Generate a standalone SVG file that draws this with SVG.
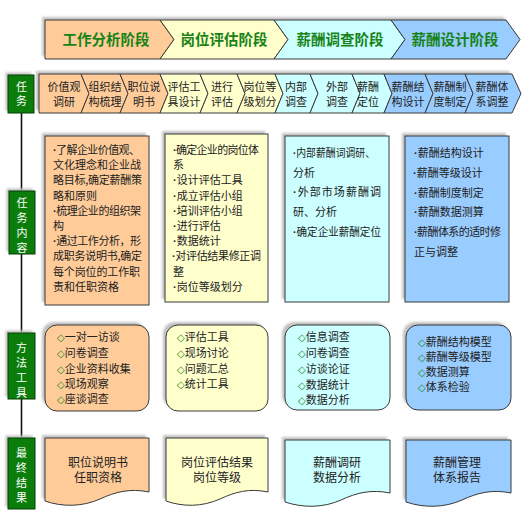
<svg xmlns="http://www.w3.org/2000/svg" width="525" height="524" viewBox="0 0 525 524">
<defs>
<filter id="blur" x="-10%" y="-10%" width="120%" height="120%"><feGaussianBlur stdDeviation="0.8"/></filter>
</defs>
<style>
.sh{fill:#c2c2c2;filter:url(#blur)}
.o{fill:#FFCC99;stroke:#3a3a3a;stroke-width:1}
.y{fill:#FFFFCC;stroke:#3a3a3a;stroke-width:1}
.c{fill:#CCFFFF;stroke:#3a3a3a;stroke-width:1}
.b{fill:#99CCFF;stroke:#3a3a3a;stroke-width:1}
.g{fill:#0b7d0b;stroke:#064006;stroke-width:1}
text{font-family:"Noto Sans CJK SC","Noto Sans",sans-serif}
.t{font-size:11px;fill:#222}
.tc{font-size:11px;fill:#222;text-anchor:middle}
.ph{font-size:14.5px;font-weight:bold;fill:#178317;text-anchor:middle}
.w{font-size:11px;fill:#fff;text-anchor:middle}
.r{font-size:12px;fill:#222;text-anchor:middle}
.d{fill:#168a16;font-family:"DejaVu Sans",sans-serif;font-size:10px}
.bu{font-family:"Liberation Sans",sans-serif;font-weight:bold}
</style>

<g id="connectors">
<line x1="21.5" y1="113" x2="21.5" y2="438" stroke="#111" stroke-width="1.6"/>
</g>

<g id="phase-bar">
<polygon class="sh" points="42,17 503,17 517,36.5 503,56 42,56"/>
<polygon class="o" points="45,20 160,20 174,39.5 160,59 45,59"/>
<polygon class="y" points="160,20 274,20 288,39.5 274,59 160,59 174,39.5"/>
<polygon class="c" points="274,20 391,20 405,39.5 391,59 274,59 288,39.5"/>
<polygon class="b" points="391,20 506,20 520,39.5 506,59 391,59 405,39.5"/>
<text class="ph" x="106" y="45">工作分析阶段</text>
<text class="ph" x="224" y="45">岗位评估阶段</text>
<text class="ph" x="340" y="45">薪酬调查阶段</text>
<text class="ph" x="455" y="45">薪酬设计阶段</text>
</g>

<g id="label-task">
<rect class="sh" x="5.5" y="72.5" width="26" height="38"/>
<rect class="g" x="8" y="75" width="26" height="38"/>
<text class="w" x="21.5" y="91">任</text>
<text class="w" x="21.5" y="105">务</text>
</g>

<g id="task-row">
<polygon class="sh" points="36,71 509,71 518,90.5 509,110 36,110"/>
<polygon class="o" points="39,74 81,74 89,93.5 81,113 39,113"/>
<polygon class="o" points="81,74 120,74 128,93.5 120,113 81,113 89,93.5"/>
<polygon class="o" points="120,74 160,74 168,93.5 160,113 120,113 128,93.5"/>
<polygon class="y" points="160,74 200,74 208,93.5 200,113 160,113 168,93.5"/>
<polygon class="y" points="200,74 237,74 245,93.5 237,113 200,113 208,93.5"/>
<polygon class="y" points="237,74 275,74 283,93.5 275,113 237,113 245,93.5"/>
<polygon class="c" points="275,74 310,74 318,93.5 310,113 275,113 283,93.5"/>
<polygon class="c" points="310,74 352,74 360,93.5 352,113 310,113 318,93.5"/>
<polygon class="c" points="352,74 384,74 392,93.5 384,113 352,113 360,93.5"/>
<polygon class="b" points="384,74 425,74 433,93.5 425,113 384,113 392,93.5"/>
<polygon class="b" points="425,74 465,74 473,93.5 465,113 425,113 433,93.5"/>
<polygon class="b" points="465,74 512,74 521,93.5 512,113 465,113 473,93.5"/>
<text class="tc" x="64" y="91">价值观</text><text class="tc" x="64" y="106">调研</text>
<text class="tc" x="105" y="91">组织结</text><text class="tc" x="105" y="106">构梳理</text>
<text class="tc" x="144" y="91">职位说</text><text class="tc" x="144" y="106">明书</text>
<text class="tc" x="184" y="91">评估工</text><text class="tc" x="184" y="106">具设计</text>
<text class="tc" x="222" y="91">进行</text><text class="tc" x="222" y="106">评估</text>
<text class="tc" x="260" y="91">岗位等</text><text class="tc" x="260" y="106">级划分</text>
<text class="tc" x="296" y="91">内部</text><text class="tc" x="296" y="106">调查</text>
<text class="tc" x="337" y="91">外部</text><text class="tc" x="337" y="106">调查</text>
<text class="tc" x="368" y="91">薪酬</text><text class="tc" x="368" y="106">定位</text>
<text class="tc" x="408" y="91">薪酬结</text><text class="tc" x="408" y="106">构设计</text>
<text class="tc" x="450" y="91">薪酬制</text><text class="tc" x="450" y="106">度制定</text>
<text class="tc" x="492" y="91">薪酬体</text><text class="tc" x="492" y="106">系调整</text>
</g>

<g id="label-content">
<rect class="sh" x="6.5" y="188.5" width="26" height="63"/>
<rect class="g" x="9" y="191" width="26" height="63"/>
<text class="w" x="22" y="206.5">任</text>
<text class="w" x="22" y="221.5">务</text>
<text class="w" x="22" y="236.5">内</text>
<text class="w" x="22" y="251.5">容</text>
</g>

<g id="content-1">
<rect class="sh" x="42" y="133" width="104" height="169"/>
<rect class="o" x="45" y="136" width="104" height="169"/>
<text class="t" x="53" y="154" textLength="87" lengthAdjust="spacing"><tspan class="bu">·</tspan>了解企业价值观、</text>
<text class="t" x="53" y="169" textLength="88" lengthAdjust="spacing">文化理念和企业战</text>
<text class="t" x="53" y="184" textLength="89" lengthAdjust="spacing">略目标,确定薪酬策</text>
<text class="t" x="53" y="200">略和原则</text>
<text class="t" x="53" y="215" textLength="88" lengthAdjust="spacing"><tspan class="bu">·</tspan>梳理企业的组织架</text>
<text class="t" x="53" y="230">构</text>
<text class="t" x="53" y="245" textLength="88" lengthAdjust="spacing"><tspan class="bu">·</tspan>通过工作分析，形</text>
<text class="t" x="53" y="260" textLength="89" lengthAdjust="spacing">成职务说明书,确定</text>
<text class="t" x="53" y="276" textLength="87" lengthAdjust="spacing">每个岗位的工作职</text>
<text class="t" x="53" y="291">责和任职资格</text>
</g>

<g id="content-2">
<rect class="sh" x="162" y="131" width="103" height="168"/>
<rect class="y" x="165" y="134" width="103" height="168"/>
<text class="t" x="173" y="154" textLength="86" lengthAdjust="spacing"><tspan class="bu">·</tspan>确定企业的岗位体</text>
<text class="t" x="173" y="169">系</text>
<text class="t" x="173" y="184"><tspan class="bu">·</tspan>设计评估工具</text>
<text class="t" x="173" y="200"><tspan class="bu">·</tspan>成立评估小组</text>
<text class="t" x="173" y="215"><tspan class="bu">·</tspan>培训评估小组</text>
<text class="t" x="173" y="230"><tspan class="bu">·</tspan>进行评估</text>
<text class="t" x="173" y="245"><tspan class="bu">·</tspan>数据统计</text>
<text class="t" x="172" y="260" textLength="89" lengthAdjust="spacing"><tspan class="bu">·</tspan>对评估结果修正调</text>
<text class="t" x="173" y="276">整</text>
<text class="t" x="173" y="291"><tspan class="bu">·</tspan>岗位等级划分</text>
</g>

<g id="content-3">
<rect class="sh" x="282" y="133" width="104" height="166"/>
<rect class="c" x="285" y="136" width="104" height="166"/>
<text class="t" x="293" y="157" textLength="82" lengthAdjust="spacingAndGlyphs"><tspan class="bu">·</tspan>内部薪酬词调研、</text>
<text class="t" x="293" y="177">分析</text>
<text class="t" x="293" y="196" textLength="88" lengthAdjust="spacing"><tspan class="bu">·</tspan>外部市场薪酬调</text>
<text class="t" x="293" y="216">研、分析</text>
<text class="t" x="293" y="236" textLength="88" lengthAdjust="spacingAndGlyphs"><tspan class="bu">·</tspan>确定企业薪酬定位</text>
</g>

<g id="content-4">
<rect class="sh" x="402" y="133" width="104" height="166"/>
<rect class="b" x="405" y="136" width="104" height="166"/>
<text class="t" x="414" y="157"><tspan class="bu">·</tspan>薪酬结构设计</text>
<text class="t" x="413" y="177"><tspan class="bu">·</tspan>薪酬等级设计</text>
<text class="t" x="414" y="197"><tspan class="bu">·</tspan>薪酬制度制定</text>
<text class="t" x="414" y="216"><tspan class="bu">·</tspan>薪酬数据测算</text>
<text class="t" x="414" y="236" textLength="87" lengthAdjust="spacing"><tspan class="bu">·</tspan>薪酬体系的适时修</text>
<text class="t" x="414" y="256">正与调整</text>
</g>

<g id="label-method">
<rect class="sh" x="5.5" y="330.5" width="27" height="66"/>
<rect class="g" x="8" y="333" width="27" height="66"/>
<text class="w" x="21.5" y="351.5">方</text>
<text class="w" x="21.5" y="366.5">法</text>
<text class="w" x="21.5" y="381.5">工</text>
<text class="w" x="21.5" y="396.5">具</text>
</g>

<g id="method-1">
<rect class="sh" x="42" y="322" width="104" height="86" rx="12"/>
<rect class="o" x="45" y="325" width="104" height="86" rx="12"/>
<text class="t" x="57" y="341"><tspan class="d">◇</tspan>一对一访谈</text>
<text class="t" x="57" y="357"><tspan class="d">◇</tspan>问卷调查</text>
<text class="t" x="57" y="373"><tspan class="d">◇</tspan>企业资料收集</text>
<text class="t" x="57" y="388"><tspan class="d">◇</tspan>现场观察</text>
<text class="t" x="57" y="403"><tspan class="d">◇</tspan>座谈调查</text>
</g>

<g id="method-2">
<rect class="sh" x="163" y="322" width="102" height="86" rx="12"/>
<rect class="y" x="166" y="325" width="102" height="86" rx="12"/>
<text class="t" x="177" y="341"><tspan class="d">◇</tspan>评估工具</text>
<text class="t" x="177" y="357"><tspan class="d">◇</tspan>现场讨论</text>
<text class="t" x="177" y="373"><tspan class="d">◇</tspan>问题汇总</text>
<text class="t" x="177" y="388"><tspan class="d">◇</tspan>统计工具</text>
</g>

<g id="method-3">
<rect class="sh" x="282" y="322" width="105" height="85" rx="12"/>
<rect class="c" x="285" y="325" width="105" height="85" rx="12"/>
<text class="t" x="298" y="341"><tspan class="d">◇</tspan>信息调查</text>
<text class="t" x="298" y="357"><tspan class="d">◇</tspan>问卷调查</text>
<text class="t" x="298" y="373"><tspan class="d">◇</tspan>访谈论证</text>
<text class="t" x="298" y="389"><tspan class="d">◇</tspan>数据统计</text>
<text class="t" x="298" y="404"><tspan class="d">◇</tspan>数据分析</text>
</g>

<g id="method-4">
<rect class="sh" x="403" y="322" width="105" height="85" rx="12"/>
<rect class="b" x="406" y="325" width="105" height="85" rx="12"/>
<text class="t" x="418" y="346"><tspan class="d">◇</tspan>薪酬结构模型</text>
<text class="t" x="418" y="361"><tspan class="d">◇</tspan>薪酬等级模型</text>
<text class="t" x="418" y="376"><tspan class="d">◇</tspan>数据测算</text>
<text class="t" x="418" y="391"><tspan class="d">◇</tspan>体系检验</text>
</g>

<g id="label-result">
<rect class="sh" x="5.5" y="435.5" width="27" height="71"/>
<rect class="g" x="8" y="438" width="27" height="71"/>
<text class="w" x="21.5" y="456.5">最</text>
<text class="w" x="21.5" y="471.5">终</text>
<text class="w" x="21.5" y="486.5">结</text>
<text class="w" x="21.5" y="501.5">果</text>
</g>

<g id="result-1">
<path class="sh" d="M42,435 H146 V489 C127,485 112,489 97,496 C79,504 59,504 42,498 Z"/>
<path class="o" d="M45,438 H149 V492 C130,488 115,492 100,499 C82,507 62,507 45,501 Z"/>
<text class="r" x="98" y="467">职位说明书</text>
<text class="r" x="98" y="482">任职资格</text>
</g>

<g id="result-2">
<path class="sh" d="M163,435 H265 V489 C246,485 232,489 217,496 C199,504 180,504 163,498 Z"/>
<path class="y" d="M166,438 H268 V492 C249,488 235,492 220,499 C202,507 183,507 166,501 Z"/>
<text class="r" x="217" y="467">岗位评估结果</text>
<text class="r" x="217" y="482">岗位等级</text>
</g>

<g id="result-3">
<path class="sh" d="M282,437 H387 V490 C368,486 353,490 338,497 C320,505 300,505 282,499 Z"/>
<path class="c" d="M285,440 H390 V493 C371,489 356,493 341,500 C323,508 303,508 285,502 Z"/>
<text class="r" x="337" y="467">薪酬调研</text>
<text class="r" x="337" y="482">数据分析</text>
</g>

<g id="result-4">
<path class="sh" d="M403,437 H508 V490 C489,486 474,490 459,497 C441,505 421,505 403,499 Z"/>
<path class="b" d="M406,440 H511 V493 C492,489 477,493 462,500 C444,508 424,508 406,502 Z"/>
<text class="r" x="457" y="467">薪酬管理</text>
<text class="r" x="457" y="482">体系报告</text>
</g>
</svg>
